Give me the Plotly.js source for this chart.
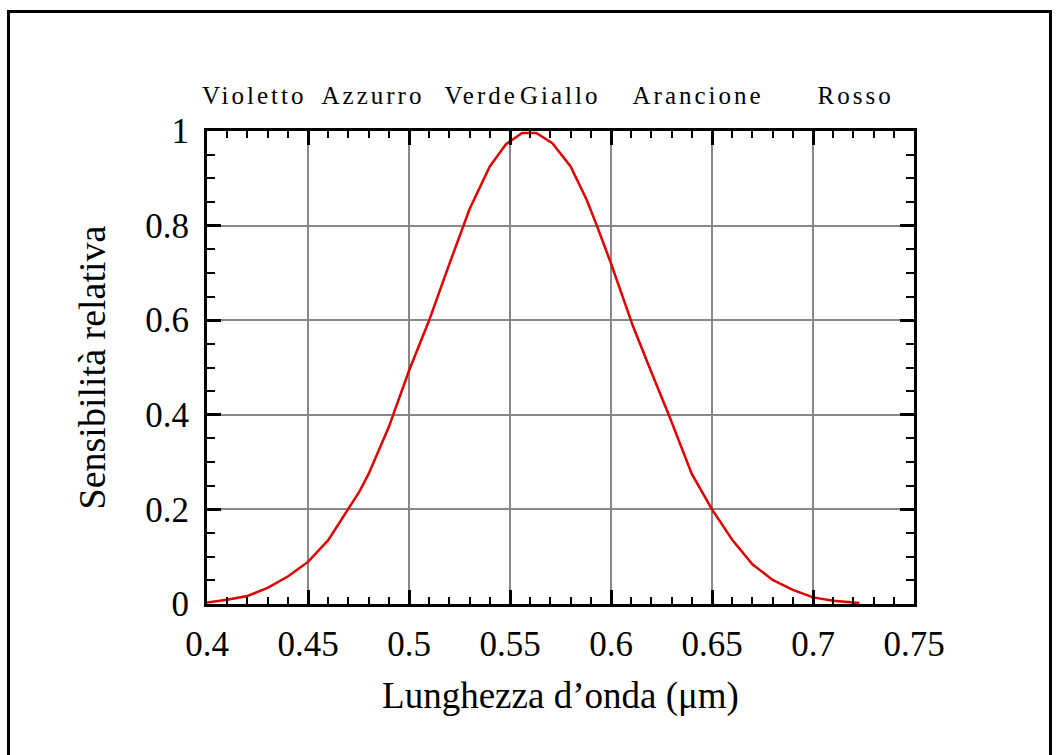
<!DOCTYPE html>
<html>
<head>
<meta charset="utf-8">
<script src="https://cdn.plot.ly/plotly-3.0.1.min.js"></script>
<style>
  html, body { margin: 0; padding: 0; background: #ffffff; }
  #chart { width: 1059px; height: 755px; }
</style>
</head>
<body>
<div id="chart"></div>
<script>
// Wavelength (µm) and relative sensitivity
const wavelength = [0.400, 0.410, 0.420, 0.430, 0.440, 0.450, 0.460, 0.4755, 0.480, 0.490,
                    0.500, 0.510, 0.520, 0.530, 0.540, 0.548, 0.556, 0.563, 0.571, 0.580,
                    0.588, 0.593, 0.600, 0.611, 0.620, 0.629, 0.640, 0.650, 0.660, 0.670,
                    0.680, 0.690, 0.700, 0.710, 0.723];
const sensitivity = [0.003, 0.009, 0.017, 0.034, 0.058, 0.089, 0.135, 0.238, 0.275, 0.374,
                     0.493, 0.600, 0.719, 0.835, 0.925, 0.972, 0.996, 0.996, 0.974, 0.925,
                     0.854, 0.800, 0.720, 0.586, 0.490, 0.396, 0.275, 0.200, 0.136, 0.084,
                     0.051, 0.030, 0.014, 0.007, 0.002];

// Colour band names shown above the plot and their wavelength centres (µm)
const colourNames = ["Violetto", "Azzurro", "Verde", "Giallo", "Arancione", "Rosso"];
const colourCentres = [0.4231, 0.4823, 0.5355, 0.5751, 0.6429, 0.7211];

const xTitle = "Lunghezza d\u2019onda (\u03bcm)";
const yTitle = "Sensibilit\u00e0 relativa";

const serif = "'Liberation Serif', 'Times New Roman', serif";

const trace = {
  x: wavelength,
  y: sensitivity,
  type: "scatter",
  mode: "lines",
  line: { color: "#e00000", width: 2.5 },
  hoverinfo: "x+y",
  showlegend: false
};

const plotH = 755 - 131 - 151;
const plotW = 1059 - 207 - 145;

const annotations = colourNames.map((name, i) => ({
  x: colourCentres[i],
  xref: "x",
  y: 1 + (131 - 95) / plotH,
  yref: "paper",
  yanchor: "middle",
  xanchor: "center",
  showarrow: false,
  text: name,
  font: { family: serif, size: 25, color: "#000" }
}));

// outer frame of the figure, drawn in paper coordinates
const fx0 = (8.5 - 207) / plotW, fx1 = (1050.5 - 207) / plotW;
const fy1 = 1 + (131 - 11.5) / plotH, fy0 = 1 - (760 - 131) / plotH;

const layout = {
  width: 1059,
  height: 755,
  paper_bgcolor: "#ffffff",
  plot_bgcolor: "#ffffff",
  margin: { l: 207, r: 145, t: 131, b: 151, pad: 0 },
  showlegend: false,
  font: { family: serif, color: "#000" },
  xaxis: {
    range: [0.4, 0.75],
    dtick: 0.05,
    tick0: 0.4,
    ticks: "inside",
    ticklen: 14,
    tickwidth: 3,
    tickcolor: "#000",
    ticklabelstandoff: 7,
    showline: true,
    linecolor: "#000",
    linewidth: 3,
    mirror: "allticks",
    showgrid: true,
    gridcolor: "#888888",
    gridwidth: 2,
    zeroline: false,
    tickfont: { family: serif, size: 35, color: "#000" },
    minor: { dtick: 0.01, ticks: "inside", ticklen: 7, tickwidth: 2, tickcolor: "#000", showgrid: false },
    title: { text: xTitle, font: { family: serif, size: 37, color: "#000" }, standoff: 20 },
    fixedrange: true
  },
  yaxis: {
    range: [0, 1],
    dtick: 0.2,
    tick0: 0,
    ticks: "inside",
    ticklen: 14,
    tickwidth: 3,
    tickcolor: "#000",
    ticklabelstandoff: 8,
    showline: true,
    linecolor: "#000",
    linewidth: 3,
    mirror: "allticks",
    showgrid: true,
    gridcolor: "#888888",
    gridwidth: 2,
    zeroline: false,
    tickfont: { family: serif, size: 35, color: "#000" },
    minor: { dtick: 0.05, ticks: "inside", ticklen: 8, tickwidth: 2, tickcolor: "#000", showgrid: false },
    title: { text: yTitle, font: { family: serif, size: 38, color: "#000" }, standoff: 28 },
    fixedrange: true
  },
  annotations: annotations,
  shapes: [{
    type: "rect", xref: "paper", yref: "paper",
    x0: fx0, x1: fx1, y0: fy0, y1: fy1,
    line: { color: "#000", width: 3 }, fillcolor: "rgba(0,0,0,0)", layer: "above"
  }]
};

Plotly.newPlot("chart", [trace], layout, { displayModeBar: false, staticPlot: true }).then(() => {
  document.querySelectorAll(".annotation-text").forEach(t => {
    t.style.letterSpacing = "3px";
  });
});
</script>
</body>
</html>
